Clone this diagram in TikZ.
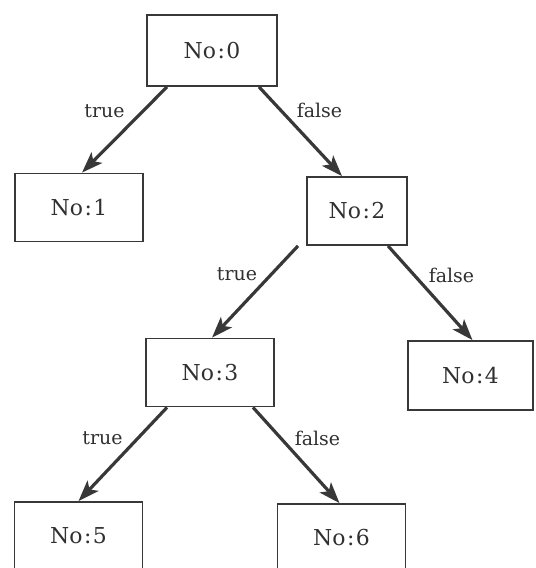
\documentclass[tikz,border=0pt]{standalone}
\usepackage{fontspec}
\setmainfont{DejaVu Serif}
\usetikzlibrary{arrows.meta}
\definecolor{ink}{HTML}{383838}
\definecolor{txt}{HTML}{303030}
\tikzset{
  treebox/.style={draw=ink, line width=1.8bp, fill=white, text=txt,
    minimum width=#1, minimum height=68bp, inner sep=0pt,
    font=\fontsize{22}{26}\selectfont},
  treebox/.default=128bp,
  branch/.style={draw=ink, line width=3.2bp,
    -{Stealth[length=21bp,width=15bp,inset=5bp]}},
  branchlabel/.style={text=txt, anchor=base, inner sep=0pt,
    font=\fontsize{19}{23}\selectfont},
}
\newcommand{\nolabel}[1]{No\kern1.5bp:\kern1.5bp#1}
\begin{document}
\begin{tikzpicture}[x=1bp,y=-1bp]
  \useasboundingbox (0,0) rectangle (536,568);
  \clip (0,0) rectangle (536,568);

  % decision tree nodes
  \node[treebox=130bp, minimum height=71bp] (n0) at (212,50.5) {\nolabel{0}};
  \node[treebox] (n1) at (79,207.5) {\nolabel{1}};
  \node[treebox=100bp] (n2) at (357,211) {\nolabel{2}};
  \node[treebox] (n3) at (210,372.5) {\nolabel{3}};
  \node[treebox=125bp, minimum height=69bp] (n4) at (470.5,375.5) {\nolabel{4}};
  \node[treebox] (n5) at (78.5,536) {\nolabel{5}};
  \node[treebox] (n6) at (341.5,538) {\nolabel{6}};

  % branches
  \draw[branch] ([xshift=-45bp]n0.south) -- ([xshift=3bp]n1.north);
  \draw[branch] ([xshift=47bp]n0.south) -- ([xshift=-15bp]n2.north);
  \draw[branch] ([xshift=-59bp]n2.south) -- ([xshift=2bp]n3.north);
  \draw[branch] ([xshift=31bp]n2.south) -- ([xshift=2bp]n4.north);
  \draw[branch] ([xshift=-43bp]n3.south) -- (n5.north);
  \draw[branch] ([xshift=43bp]n3.south) -- ([xshift=-2bp]n6.north);

  % branch labels
  \node[branchlabel] (t0) at (104.5,118) {true};
  \node[branchlabel] (f0) at (319.5,118) {false};
  \node[branchlabel] (t2) at (237,280) {true};
  \node[branchlabel] (f2) at (451.5,282) {false};
  \node[branchlabel] (t3) at (102.5,444) {true};
  \node[branchlabel] (f3) at (317.5,445) {false};
\end{tikzpicture}
\end{document}
